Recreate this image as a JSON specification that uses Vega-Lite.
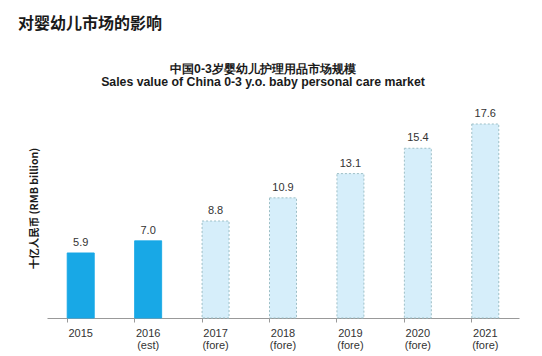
{
  "$schema": "https://vega.github.io/schema/vega-lite/v6.json",
  "background": "white",
  "padding": {"left": 18, "top": 15, "right": 23, "bottom": 5},
  "title": {
    "text": "对婴幼儿市场的影响",
    "anchor": "start",
    "frame": "group",
    "dx": -29,
    "fontSize": 16,
    "fontWeight": "bold",
    "font": "Noto Sans CJK SC",
    "color": "#1a1a1a",
    "offset": 31
  },
  "data": {
    "values": [
      {"year": "2015", "value": 5.9, "type": "actual"},
      {"year": "2016 (est)", "value": 7.0, "type": "actual"},
      {"year": "2017 (fore)", "value": 8.8, "type": "forecast"},
      {"year": "2018 (fore)", "value": 10.9, "type": "forecast"},
      {"year": "2019 (fore)", "value": 13.1, "type": "forecast"},
      {"year": "2020 (fore)", "value": 15.4, "type": "forecast"},
      {"year": "2021 (fore)", "value": 17.6, "type": "forecast"}
    ]
  },
  "vconcat": [
    {
      "width": 472,
      "height": 194,
      "title": {
        "text": ["中国0-3岁婴幼儿护理用品市场规模", "Sales value of China 0-3 y.o. baby personal care market"],
        "anchor": "middle",
        "frame": "group",
        "dx": -20,
        "fontSize": 12.3,
        "fontWeight": "bold",
        "font": "Liberation Sans",
        "lineHeight": 13,
        "color": "#1a1a1a",
        "offset": 20
      },
      "encoding": {
        "x": {
          "field": "year",
          "type": "nominal",
          "sort": null,
          "scale": {"paddingInner": 0.6, "paddingOuter": 0.3},
          "axis": {
            "title": null,
            "labelAngle": 0,
            "labelExpr": "split(datum.label, ' ')",
            "labelFont": "Liberation Sans",
            "labelFontSize": 11,
            "labelColor": "#333333",
            "labelLineHeight": 12,
            "labelPadding": 5,
            "bandPosition": 0,
            "tickSize": 4,
            "tickColor": "#999999",
            "domainColor": "#999999",
            "grid": false
          }
        },
        "y": {
          "field": "value",
          "type": "quantitative",
          "scale": {"domain": [0, 17.6], "nice": false},
          "axis": {
            "title": "十亿人民币 (RMB billion)",
            "titleFont": "Noto Sans CJK SC",
            "titleFontSize": 10.5,
            "titleFontWeight": "bold",
            "titleColor": "#1a1a1a",
            "titlePadding": 8,
            "titleY": 84,
            "labels": false,
            "ticks": false,
            "domain": false,
            "grid": false
          }
        }
      },
      "layer": [
        {
          "mark": {"type": "bar", "strokeWidth": 1},
          "encoding": {
            "fill": {
              "field": "type",
              "type": "nominal",
              "scale": {"domain": ["actual", "forecast"], "range": ["#18A8E6", "#D6EEFA"]},
              "legend": null
            },
            "stroke": {
              "field": "type",
              "type": "nominal",
              "scale": {"domain": ["actual", "forecast"], "range": ["#18A8E6", "#9DBFC6"]},
              "legend": null
            },
            "strokeDash": {
              "field": "type",
              "type": "nominal",
              "scale": {"domain": ["actual", "forecast"], "range": [[1, 0], [2, 2]]},
              "legend": null
            }
          }
        },
        {
          "mark": {"type": "text", "dy": -10, "fontSize": 11, "font": "Liberation Sans", "color": "#333333"},
          "encoding": {
            "text": {"field": "value", "type": "quantitative", "format": ".1f"}
          }
        }
      ]
    }
  ],
  "config": {"view": {"stroke": null}}
}
